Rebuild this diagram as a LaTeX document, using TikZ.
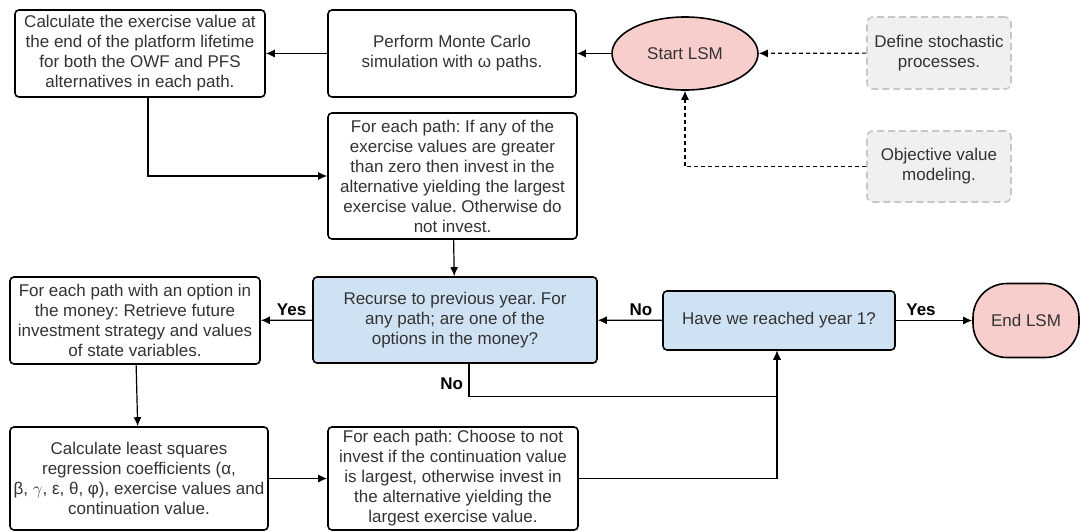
\documentclass[tikz,border=0pt]{standalone}
\usepackage{fontspec}
\setmainfont{Liberation Sans}
\usetikzlibrary{shapes.geometric,arrows.meta}
\definecolor{qblue}{HTML}{CFE2F3}
\definecolor{qpink}{HTML}{F8CECC}
\definecolor{qgrey}{HTML}{F0F0F0}
\frenchspacing

\begin{document}
\begin{tikzpicture}[x=1pt,y=-1pt,
    box/.style={rectangle,rounded corners=4pt,draw=black,line width=1.6pt,fill=white,align=center,inner sep=1pt,text=black!80,font=\fontsize{17}{20}\selectfont},
    dec/.style={box,fill=qblue},
    term/.style={ellipse,draw=black,line width=1.6pt,fill=qpink,inner sep=0pt,text=black!80,font=\fontsize{17}{20}\selectfont},
    aux/.style={box,draw=black!22,fill=qgrey,dash pattern=on 7pt off 4pt,rounded corners=6pt},
    flow/.style={>={Latex[length=9pt,width=8pt]},->,line width=1.2pt},
    dep/.style={flow,dash pattern=on 4pt off 3pt},
    lbl/.style={font=\bfseries\fontsize{17}{20}\selectfont}]
    \useasboundingbox (0,0) rectangle (1086,532);

    % top row
    \node[box,minimum width=250,minimum height=87] (calc) at (140,53.5) {Calculate the exercise value at\\the end of the platform lifetime\\for both the OWF and PFS\\alternatives in each path.};
    \node[box,minimum width=248,minimum height=87] (mc) at (452,53.5) {Perform Monte Carlo\\simulation with ω paths.};
    \node[term,minimum width=146,minimum height=73] (start) at (685,53.5) {Start LSM};
    \node[aux,minimum width=144,minimum height=72] (stoch) at (939,53) {Define stochastic\\processes.};
    \node[aux,minimum width=144,minimum height=71] (obj) at (939,166.5) {Objective value\\modeling.};
    \node[box,minimum width=249,minimum height=126] (invest) at (452.5,176) {For each path: If any of the\\exercise values are greater\\than zero then invest in the\\alternative yielding the largest\\exercise value. Otherwise do\\not invest.};

    % middle row
    \node[box,minimum width=250,minimum height=87] (retr) at (135,320.5) {For each path with an option in\\the money: Retrieve future\\investment strategy and values\\of state variables.};
    \node[dec,minimum width=284,minimum height=86] (rec) at (455,320) {Recurse to previous year. For\\any path; are one of the\\options in the money?};
    \node[dec,minimum width=232,minimum height=59] (year) at (779,320.5) {Have we reached year 1?};
    \node[term,rectangle,rounded corners=34pt,minimum width=106,minimum height=74] (end) at (1026,320.5) {End LSM};

    % bottom row
    \node[box,minimum width=258,minimum height=103] (lsq) at (139,478.5) {Calculate least squares\\regression coefficients (α,\\β, $\gamma$, ε, θ, φ), exercise values and\\continuation value.};
    \node[box,minimum width=250,minimum height=103] (choose) at (453,478.5) {For each path: Choose to not\\invest if the continuation value\\is largest, otherwise invest in\\the alternative yielding the\\largest exercise value.};

    \draw[flow] (start) -- (mc);
    \draw[flow] (mc) -- (calc);
    \draw[dep] (stoch) -- (start);
    \draw[dep] (obj.west) -| (start.south);
    \draw[flow] ([xshift=8]calc.south) |- (invest.west);
    \draw[flow] (invest) -- (rec);
    \draw[flow] (rec) -- node[lbl,pos=0.4,above=1pt] {Yes} (retr);
    \draw[flow] (year) -- node[lbl,pos=0.33,above=1pt] {No} (rec);
    \draw[flow] (year) -- node[lbl,pos=0.33,above=1pt] {Yes} (end);
    \draw[flow] (retr) -- (lsq);
    \draw[flow] (lsq) -- (choose);
    \draw[flow] (choose.east) -| ([xshift=-2]year.south);
    \draw[flow] ([xshift=14]rec.south) -- ++(0,33) node[lbl,pos=0.6,left=2pt] {No} -| ([xshift=-2]year.south);
\end{tikzpicture}
\end{document}
